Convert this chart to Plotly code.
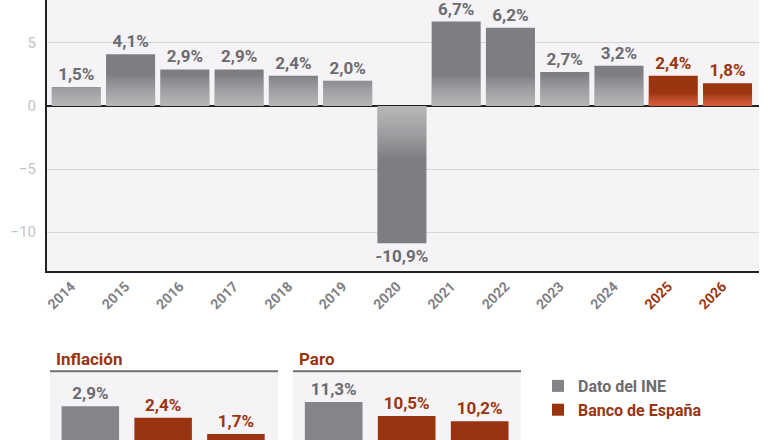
import plotly.graph_objects as go

# ---------------- data ----------------
years = ["2014", "2015", "2016", "2017", "2018", "2019", "2020",
         "2021", "2022", "2023", "2024", "2025", "2026"]
gdp = [1.5, 4.1, 2.9, 2.9, 2.4, 2.0, -10.9, 6.7, 6.2, 2.7, 3.2, 2.4, 1.8]
source = ["INE"] * 11 + ["BdE"] * 2

panel_cats = ["2024", "2025", "2026"]
panel_source = ["INE", "BdE", "BdE"]
inflacion = [2.9, 2.4, 1.7]
paro = [11.3, 10.5, 10.2]

legend_names = {"INE": "Dato del INE", "BdE": "Banco de España"}

# ---------------- style ----------------
FONT = "Roboto"
GRAY = "#7e7d81"
GRAY_TXT = "#6c6b6f"
RED = "#9b3510"
BG = "#f5f3f6"
TICK_GRAY = "#c4c3c6"
GRID = "#d6d5d8"
AX = "#222222"

W, H = 780, 440


def fmt(v):
    return f"{v:.1f}".replace(".", ",") + "%"


def col(s):
    return RED if s == "BdE" else GRAY


fig = go.Figure()

# main bars
fig.add_trace(go.Bar(
    x=years, y=gdp, marker=dict(color=[col(s) for s in source], line_width=0),
    text=[fmt(v) for v in gdp], textposition="outside", constraintext="none",
    textfont=dict(family=FONT, size=17, weight=700,
                  color=[RED if s == "BdE" else GRAY_TXT for s in source]),
    cliponaxis=False, showlegend=False, hoverinfo="skip",
    xaxis="x", yaxis="y"))

# gradient overlay layers (lighter near the zero line)
N = 12
for i in range(1, N + 1):
    ys, cols = [], []
    for v, s in zip(gdp, source):
        if s == "BdE":
            depth, c = 1.0, "rgba(255,115,90,0.075)"
        elif v < 0:
            depth, c = 4.0, "rgba(255,255,255,0.05)"
        else:
            depth, c = 2.4, "rgba(255,255,255,0.05)"
        h = depth * i / N
        ys.append(max(v, -h) if v < 0 else min(v, h))
        cols.append(c)
    fig.add_trace(go.Bar(x=years, y=ys, marker=dict(color=cols, line_width=0),
                         showlegend=False, hoverinfo="skip", xaxis="x", yaxis="y"))

# small panels
for vals, xa, ya in [(inflacion, "x2", "y2"), (paro, "x3", "y3")]:
    for src in ["INE", "BdE"]:
        xs = [c for c, s in zip(panel_cats, panel_source) if s == src]
        ys = [v for v, s in zip(vals, panel_source) if s == src]
        name = legend_names[src]
        if src == "BdE":
            name = f"<span style='color:{RED}'>{name}</span>"
        fig.add_trace(go.Bar(
            x=xs, y=ys, name=name, width=0.79,
            marker=dict(color="#858488" if src == "INE" else "#9a3410", line_width=0),
            text=[fmt(v) for v in ys], textposition="outside", constraintext="none",
            textfont=dict(family=FONT, size=17, weight=700,
                          color=GRAY_TXT if src == "INE" else RED),
            cliponaxis=False, showlegend=(xa == "x2"), hoverinfo="skip",
            xaxis=xa, yaxis=ya))

# ---------------- layout ----------------
px = lambda p: p / W
py = lambda p: 1 - p / H

tickcols = [f"<span style='color:{RED}'>{y}</span>" if s == "BdE" else y
            for y, s in zip(years, source)]

fig.update_layout(
    width=W, height=H, margin=dict(l=0, r=0, t=0, b=0, autoexpand=False),
    paper_bgcolor="white", plot_bgcolor=BG,
    barmode="overlay", bargap=0.096,
    font=dict(family=FONT),
    showlegend=True,
    legend=dict(x=px(538), y=py(369), xanchor="left", yanchor="top",
                bgcolor="rgba(0,0,0,0)",
                font=dict(family=FONT, size=16, weight=700, color=GRAY_TXT),
                tracegroupgap=0),
    xaxis=dict(domain=[px(47), px(759)], range=[-0.54, 12.58],
               tickmode="array", tickvals=years, ticktext=tickcols,
               tickangle=-45, tickfont=dict(family=FONT, size=14, weight=700, color="#817f84"),
               ticklabelshift=-5, automargin=False,
               showline=True, linecolor=AX, linewidth=2, showgrid=False,
               zeroline=False, ticks="", anchor="y", fixedrange=True),
    yaxis=dict(domain=[py(270.7), 1], range=[-13.07, 8.41],
               tickvals=[-10, -5, 0, 5], automargin=False,
               tickfont=dict(family=FONT, size=15, color=TICK_GRAY),
               ticklabelstandoff=6,
               showline=True, linecolor=AX, linewidth=2,
               showgrid=True, gridcolor=GRID, gridwidth=1,
               zeroline=True, zerolinecolor=AX, zerolinewidth=2,
               anchor="x", fixedrange=True),
    xaxis2=dict(domain=[px(50), px(278)], range=[-0.554, 2.578], visible=False,
                anchor="y2", fixedrange=True, automargin=False),
    yaxis2=dict(domain=[0, py(373)], range=[1.435, 4.347], visible=False,
                anchor="x2", fixedrange=True, automargin=False),
    xaxis3=dict(domain=[px(293), px(521)], range=[-0.557, 2.566], visible=False,
                anchor="y3", fixedrange=True, automargin=False),
    yaxis3=dict(domain=[0, py(373)], range=[9.139, 12.945], visible=False,
                anchor="x3", fixedrange=True, automargin=False),
)

# panel titles and rules
for title, x0, x1 in [("Inflación", 50, 278), ("Paro", 293, 521)]:
    fig.add_annotation(text=f"<b>{title}</b>", x=px(x0 + 4), y=py(359),
                       xref="paper", yref="paper", xanchor="left", yanchor="middle",
                       showarrow=False, font=dict(family=FONT, size=17, color=RED))
    fig.add_shape(type="line", xref="paper", yref="paper",
                  x0=px(x0), x1=px(x1), y0=py(371.3), y1=py(371.3),
                  line=dict(color="#6e6e70", width=2))

fig.write_html("out.html")
